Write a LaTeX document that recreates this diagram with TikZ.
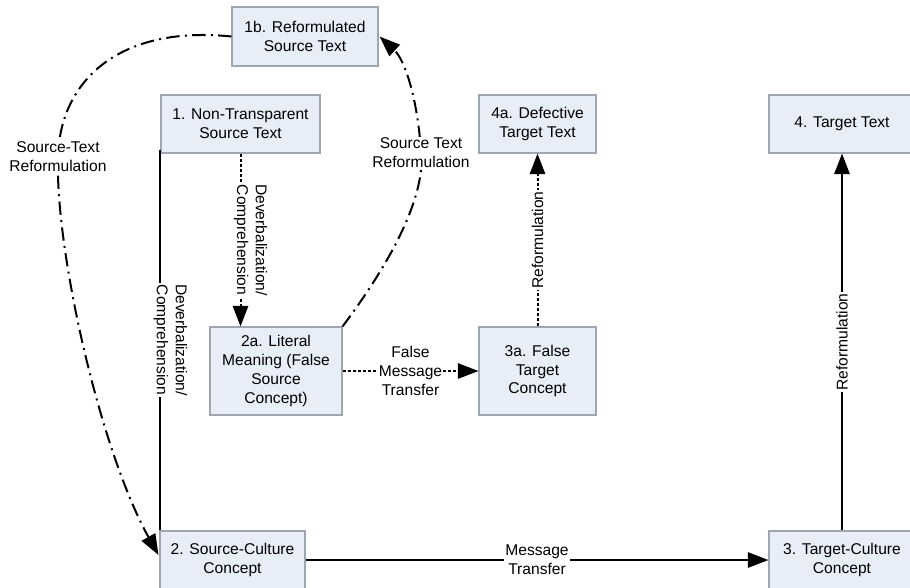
\documentclass[tikz,border=0pt]{standalone}
\usepackage{fontspec}
\setmainfont{Liberation Sans}
\usepackage{xcolor}
\usepackage{tikz}
\usetikzlibrary{arrows.meta}
\usetikzlibrary{calc}
\definecolor{boxfill}{RGB}{232,238,247}
\definecolor{boxline}{RGB}{160,166,176}

\begin{document}
\begin{tikzpicture}[x=0.75pt,y=-0.75pt,
  box/.style={draw=boxline,fill=boxfill,line width=0.8pt,align=center,inner sep=1pt,font=\fontsize{11.7}{14.2}\selectfont},
  lbl/.style={fill=white,align=center,inner sep=1pt,font=\fontsize{11.7}{14.2}\selectfont},
  tip/.style={-{Triangle[length=15.5pt,width=11.5pt]}},
  solidline/.style={line width=1.5pt},
  dotline/.style={line width=1.5pt,dash pattern=on 2.25pt off 1.5pt},
  dashdot/.style={line width=1.5pt,dash pattern=on 10pt off 4pt on 1.5pt off 4pt}]
\clip (0,0) rectangle (910,587);
\fill[white] (0,0) rectangle (910,587);

\node[box,minimum width=109.5pt,minimum height=44.25pt] (n1b) at (305,36.5) {1b. Reformulated\\Source Text};
\node[box,minimum width=119.25pt,minimum height=43.5pt] (n1) at (240.5,124) {1. Non-Transparent\\Source Text};
\node[box,minimum width=87.75pt,minimum height=43.5pt] (n4a) at (537.5,124) {4a. Defective\\Target Text};
\node[box,minimum width=109.5pt,minimum height=43.5pt] (n4) at (842,124) {4. Target Text};
\node[box,minimum width=99pt,minimum height=66pt] (n2a) at (276,371) {2a. Literal\\Meaning (False\\Source\\Concept)};
\node[box,minimum width=87.75pt,minimum height=66pt] (n3a) at (537.5,371) {3a. False\\Target\\Concept};
\node[box,minimum width=108.75pt,minimum height=43.5pt] (n2) at (232.5,560) {2. Source-Culture\\Concept};
\node[box,minimum width=109.5pt,minimum height=43.5pt] (n3) at (842,560) {3. Target-Culture\\Concept};

\draw[solidline] ($(n1.south west)+(0,-4)$) -- node[lbl,xshift=7.5pt,rotate=-90] {Deverbalization/\\Comprehension} (n1.south west |- n2.north);
\draw[dotline,tip] (n1.south) -- node[lbl,xshift=7.5pt,rotate=-90] {Deverbalization/\\Comprehension} (n1.south |- n2a.north);
\draw[dotline,tip] (n2a.east) -- node[lbl] {False\\Message\\Transfer} (n3a.west);
\draw[dotline,tip] (n3a.north) -- node[lbl,rotate=90] {Reformulation} (n4a.south);
\draw[solidline,tip] (n2.east) -- node[lbl] {Message\\Transfer} (n3.west);
\draw[solidline,tip] (n3.north) -- node[lbl,rotate=90] {Reformulation} (n4.south);

\draw[dashdot,tip] (n1b.west) .. controls (120,25) and (60,80) .. (58,157) node[lbl] {Source-Text\\Reformulation}
  .. controls (55,250) and (100,450) .. ($(n2.west)+(-1,-5)$);
\draw[dashdot,tip] (n2a.north east) .. controls (400,250) and (425,190) .. (421,153) node[lbl] {Source Text\\Reformulation}
  .. controls (418,100) and (405,60) .. ($(n1b.east)+(1,0)$);
\end{tikzpicture}
\end{document}
